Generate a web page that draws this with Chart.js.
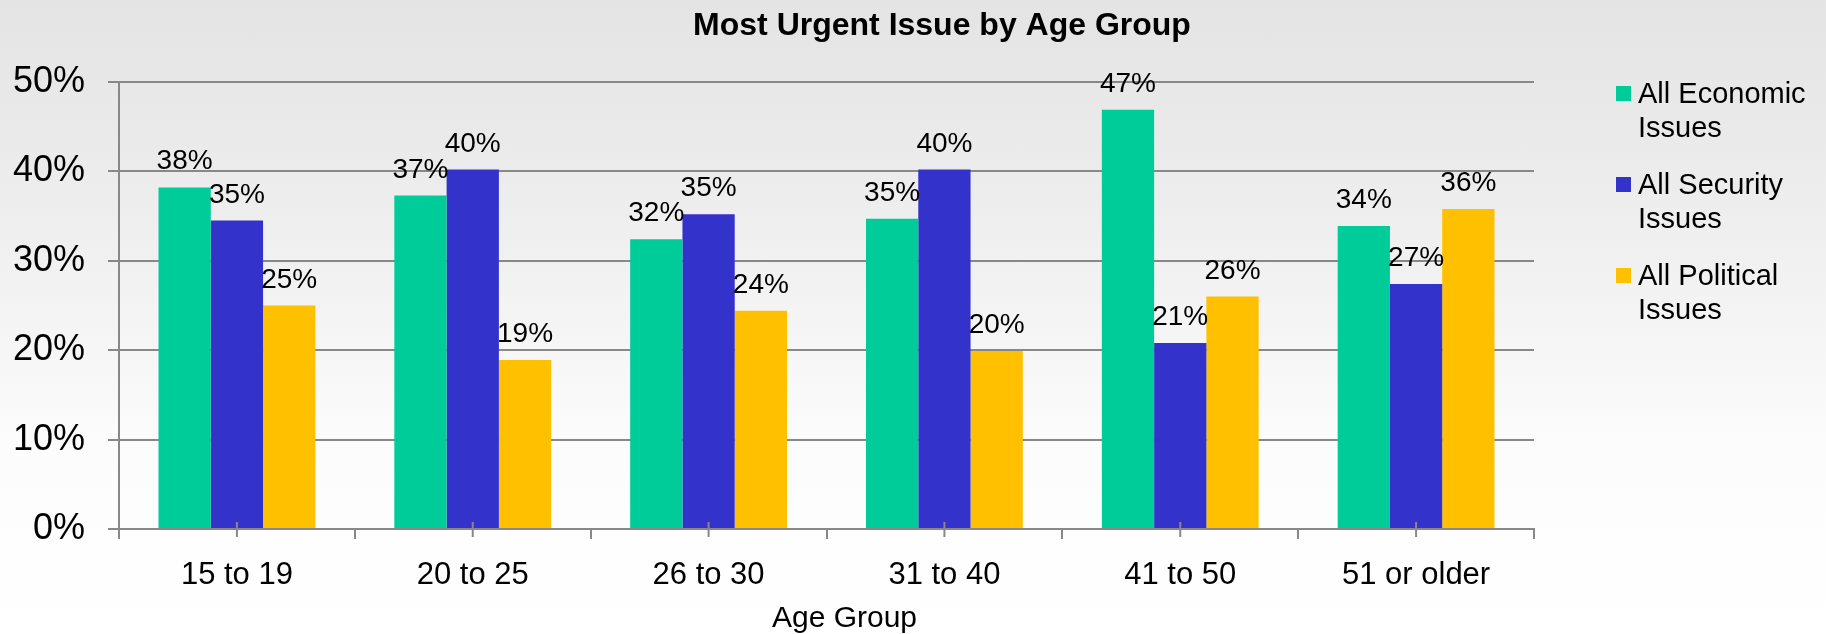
<!DOCTYPE html>
<html><head><meta charset="utf-8">
<script src="https://cdn.jsdelivr.net/npm/chart.js@4"></script>
<style>
html,body{margin:0;padding:0;}
body{width:1826px;height:634px;overflow:hidden;background:linear-gradient(to bottom,#e4e4e4 0%,#ebebeb 25%,#f4f4f4 50%,#fcfcfc 70%,#ffffff 100%);}
canvas{display:block;}
</style></head><body>
<canvas id="c" width="1826" height="634"></canvas>
<script>
const categories = ['15 to 19','20 to 25','26 to 30','31 to 40','41 to 50','51 or older'];
const economic  = [38.2, 37.3, 32.4, 34.7, 46.9, 33.9];
const security  = [34.5, 40.2, 35.2, 40.2, 20.8, 27.4];
const political = [25.0, 18.9, 24.4, 19.9, 26.0, 35.8];
const seriesNames = ['All Economic Issues','All Security Issues','All Political Issues'];
const seriesColors = ['#00CC99','#3333CC','#FFC000'];
const yTickValues = [0,10,20,30,40,50];
const chartTitle = 'Most Urgent Issue by Age Group';
const xAxisTitle = 'Age Group';

const FONT = "'Liberation Sans', Arial, Helvetica, sans-serif";
const GRID = '#888888';

const overlay = {
  id: 'overlay',
  afterDatasetsDraw(chart) {
    const {ctx, chartArea, scales: {x}} = chart;
    ctx.save();
    ctx.strokeStyle = GRID; ctx.lineWidth = 2;
    categories.forEach((c, i) => {
      const px = x.getPixelForValue(i);
      ctx.beginPath(); ctx.moveTo(px, chartArea.bottom - 7); ctx.lineTo(px, chartArea.bottom + 8); ctx.stroke();
    });
    ctx.font = `28px ${FONT}`; ctx.fillStyle = '#000'; ctx.textAlign = 'center'; ctx.textBaseline = 'alphabetic';
    chart.data.datasets.forEach((ds, di) => {
      chart.getDatasetMeta(di).data.forEach((bar, i) => {
        ctx.fillText(Math.round(ds.data[i]) + '%', bar.x, bar.y - 18);
      });
    });
    ctx.restore();
  },
  afterDraw(chart) {
    const {ctx, chartArea} = chart;
    ctx.save();
    ctx.fillStyle = '#000'; ctx.textBaseline = 'alphabetic';
    // title
    ctx.font = `bold 32px ${FONT}`; ctx.textAlign = 'center';
    ctx.fillText(chartTitle, chart.width / 2 + 29, 35);
    // x axis title
    ctx.font = `30px ${FONT}`;
    ctx.fillText(xAxisTitle, (chartArea.left + chartArea.right) / 2 + 18, 627);
    // legend
    ctx.textAlign = 'left'; ctx.font = `29px ${FONT}`;
    chart.data.datasets.forEach((ds, i) => {
      const y0 = 86 + 91 * i;
      ctx.fillStyle = ds.backgroundColor;
      ctx.fillRect(1616, y0, 15, 15);
      ctx.fillStyle = '#000';
      const t = ds.label, k = t.lastIndexOf(' ');
      ctx.fillText(t.slice(0, k), 1638, 103 + 91 * i);
      ctx.fillText(t.slice(k + 1), 1638, 137 + 91 * i);
    });
    ctx.restore();
  }
};

new Chart(document.getElementById('c'), {
  type: 'bar',
  data: {
    labels: categories,
    datasets: [economic, security, political].map((d, i) => ({
      label: seriesNames[i], data: d, backgroundColor: seriesColors[i],
      borderWidth: 0, categoryPercentage: 0.665, barPercentage: 1.0
    }))
  },
  options: {
    responsive: false, animation: false,
    layout: {padding: {top: 82, right: 292, bottom: 0, left: 0}},
    plugins: {legend: {display: false}, title: {display: false}, tooltip: {enabled: false}},
    scales: {
      x: {
        grid: {display: true, drawOnChartArea: false, drawTicks: true, tickLength: 10, color: GRID, lineWidth: 2, offset: true},
        border: {display: true, color: GRID, width: 2},
        ticks: {font: {family: FONT, size: 31}, color: '#000', padding: 18, maxRotation: 0, autoSkip: false},
        afterFit(s) { s.height = 105; }
      },
      y: {
        min: 0, max: 50,
        afterBuildTicks(s) { s.ticks = yTickValues.map(v => ({value: v})); },
        grid: {color: GRID, lineWidth: 2, tickLength: 11, drawTicks: true},
        border: {display: true, color: GRID, width: 2},
        ticks: {font: {family: FONT, size: 36}, color: '#000', padding: 23, callback: v => v + '%'},
        afterFit(s) { s.width = 119; }
      }
    }
  },
  plugins: [overlay]
});
</script>
</body></html>
